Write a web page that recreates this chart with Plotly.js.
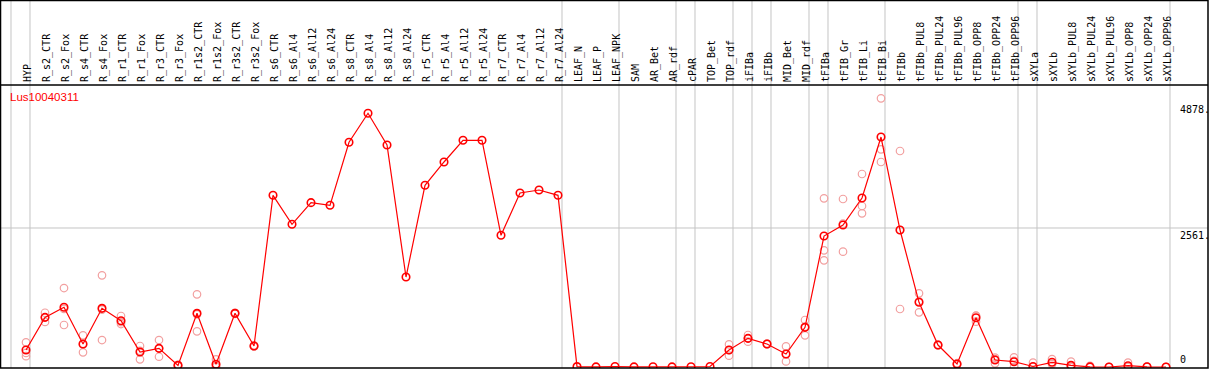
<!DOCTYPE html>
<html>
<head>
<meta charset="utf-8">
<script src="https://cdn.plot.ly/plotly-3.0.1.min.js"></script>
<style>html,body{margin:0;padding:0;background:#fff;}#chart{width:1209px;height:370px;}</style>
</head>
<body>
<div id="chart"></div>
<script>
const geneName = "Lus10040311";
const categories = ["HYP","R_s2_CTR","R_s2_Fox","R_s4_CTR","R_s4_Fox","R_r1_CTR","R_r1_Fox","R_r3_CTR","R_r3_Fox","R_r1s2_CTR","R_r1s2_Fox","R_r3s2_CTR","R_r3s2_Fox","R_s6_CTR","R_s6_Al4","R_s6_Al12","R_s6_Al24","R_s8_CTR","R_s8_Al4","R_s8_Al12","R_s8_Al24","R_r5_CTR","R_r5_Al4","R_r5_Al12","R_r5_Al24","R_r7_CTR","R_r7_Al4","R_r7_Al12","R_r7_Al24","LEAF_N","LEAF_P","LEAF_NPK","SAM","AR_Bet","AR_rdf","cPAR","TOP_Bet","TOP_rdf","iFIBa","iFIBb","MID_Bet","MID_rdf","tFIBa","tFIB_Gr","tFIB_Li","tFIB_Bi","tFIBb","tFIBb_PUL8","tFIBb_PUL24","tFIBb_PUL96","tFIBb_OPP8","tFIBb_OPP24","tFIBb_OPP96","sXYLa","sXYLb","sXYLb_PUL8","sXYLb_PUL24","sXYLb_PUL96","sXYLb_OPP8","sXYLb_OPP24","sXYLb_OPP96"];
const meanValues = [313,915,1100,424,1081,853,276,344,31,989,50,989,387,3163,2629,3028,2979,4140,4674,4090,1658,3347,3777,4176,4176,2426,3206,3261,3163,8,2,10,2,5,2,5,10,313,528,424,240,731,2413,2616,3113,4237,2524,1192,405,55,908,129,98,10,87,31,2,0,24,4,0];
const rep1 = [455,1000,1455,584,1689,940,387,497,40,1339,142,1000,400,null,null,null,null,null,null,null,null,null,null,null,null,null,null,null,null,null,null,null,null,null,null,null,null,418,590,432,381,866,3107,3095,3556,4950,3979,1357,412,70,945,172,178,80,147,98,20,0,80,10,0];
const rep2 = [260,915,774,271,497,792,142,190,30,657,0,980,380,null,null,null,null,null,null,null,null,null,null,null,null,null,null,null,null,null,null,null,null,null,null,null,null,209,466,420,104,584,2149,2125,2966,4010,1069,1008,398,50,835,68,0,0,60,0,0,0,0,0,0];
const rep3 = [200,830,1071,417,1057,827,300,345,25,971,10,990,380,null,null,null,null,null,null,null,null,null,null,null,null,null,null,null,null,null,null,null,null,null,null,null,null,313,528,420,235,743,1965,2640,2831,3777,2524,1211,405,45,944,147,116,0,55,0,0,0,0,0,0];
const groupEnds = [-1,0,28,31,34,35,37,38,39,41,42,45,52,53,60];
const yTickValues = [0, 2561, 4878];
const yTickLabels = ["0", "2561.", "4878."];

const idx = categories.map((c,i)=>i);
const xr = [-1.316, 62.21];
const yr = [-18, 5195];
const plotH = 283;
const topPaper = 1 + 84.5/plotH;
const toPaperX = v => (v - xr[0])/(xr[1]-xr[0]);

const shapes = [];
groupEnds.forEach(g => {
  const px = toPaperX(g + 0.21);
  shapes.push({type:'line', xref:'paper', yref:'paper', x0:px, x1:px, y0:0, y1:topPaper, line:{color:'#c4c4c4', width:1}, layer:'below'});
});
shapes.push({type:'line', xref:'paper', yref:'y', x0:0, x1:1, y0:2561, y1:2561, line:{color:'#c4c4c4', width:1}, layer:'below'});
shapes.push({type:'rect', xref:'paper', yref:'paper', x0:-0.0004, x1:1.0, y0:0, y1:topPaper, line:{color:'#000', width:1.5}, layer:'above'});
shapes.push({type:'line', xref:'paper', yref:'paper', x0:0, x1:1, y0:1, y1:1, line:{color:'#000', width:1.5}, layer:'above'});

const repStyle = {symbol:'circle-open', size:7.5, color:'#f2a0a0', line:{width:1.2}};
const traces = [rep1, rep2, rep3].map(r => ({
  x: idx, y: r, type:'scatter', mode:'markers', marker: repStyle, hoverinfo:'skip', showlegend:false
}));
traces.push({
  x: idx, y: meanValues, type:'scatter', mode:'lines+markers',
  line:{color:'#ff0000', width:1.2},
  marker:{symbol:'circle-open', size:7.5, color:'#ff0000', line:{width:1.6}},
  showlegend:false
});

const annotations = yTickValues.map((v,i)=>({
  xref:'paper', yref:'y', x:(1178-1)/1207, y:v, xanchor:'left',
  yanchor: i===0 ? 'bottom' : 'top', text:yTickLabels[i], showarrow:false,
  font:{family:'DejaVu Sans Mono', size:10, color:'#000'}
}));

const layout = {
  width:1209, height:370,
  margin:{l:1, r:1, t:85, b:2, pad:0},
  paper_bgcolor:'#fff', plot_bgcolor:'#fff',
  title:{text:geneName, font:{family:'Liberation Sans', size:11.5, color:'#ff0000'}, xref:'container', yref:'container', x:10/1209, xanchor:'left', y:1-97/370, yanchor:'middle'},
  xaxis:{range:xr, tickmode:'array', tickvals:idx, ticktext:categories, side:'top', tickangle:-90,
    tickfont:{family:'DejaVu Sans Mono', size:10, color:'#000'}, ticks:'', ticklabelstandoff:2, ticklabelshift:2, showgrid:false, zeroline:false, showline:false, automargin:false, fixedrange:true},
  yaxis:{range:yr, showticklabels:false, showgrid:false, zeroline:false, showline:false, ticks:'', automargin:false, fixedrange:true},
  shapes: shapes,
  annotations: annotations,
  showlegend:false
};
Plotly.newPlot('chart', traces, layout, {displayModeBar:false, staticPlot:true});
</script>
</body>
</html>
